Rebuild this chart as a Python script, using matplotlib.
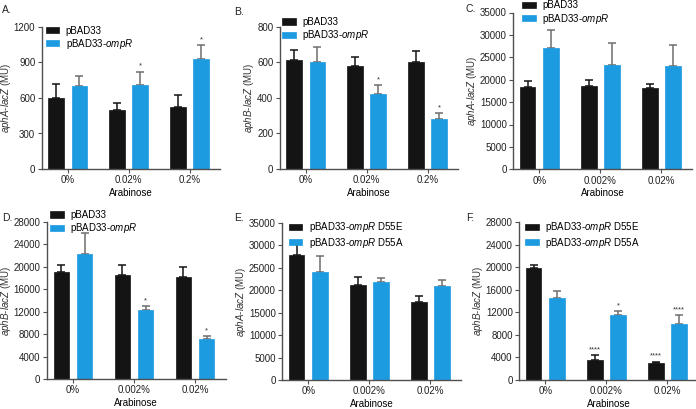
import matplotlib
matplotlib.use("Agg")
import matplotlib.pyplot as plt
import numpy as np

plt.rcParams["font.family"] = ["Liberation Sans", "DejaVu Sans"]
plt.rcParams["mathtext.fontset"] = "custom"
plt.rcParams["mathtext.rm"] = "Liberation Sans"
plt.rcParams["mathtext.it"] = "Liberation Sans:italic"
plt.rcParams["font.size"] = 7

W, H = 696, 409
BLACK = "#141414"
BLUE = "#1c9be0"
AXC = "#505050"

# --- data ---
conc_ab = ["0%", "0.02%", "0.2%"]
conc_cf = ["0%", "0.002%", "0.02%"]

lab_wt = ["pBAD33", "pBAD33-$\\mathit{ompR}$"]
lab_mut = ["pBAD33-$\\mathit{ompR}$ D55E", "pBAD33-$\\mathit{ompR}$ D55A"]

a_black = [603, 496, 524]
a_black_err = [115, 62, 99]
a_blue = [704, 710, 932]
a_blue_err = [82, 110, 116]

b_black = [611, 579, 600]
b_black_err = [60, 53, 62]
b_blue = [600, 421, 280]
b_blue_err = [88, 50, 34]

c_black = [18400, 18700, 18100]
c_black_err = [1300, 1200, 900]
c_blue = [27100, 23250, 23100]
c_blue_err = [4100, 4980, 4700]

d_black = [19030, 18490, 18130]
d_black_err = [1360, 1900, 1790]
d_blue = [22240, 12250, 7130]
d_blue_err = [3800, 710, 490]

e_black = [27900, 21200, 17500]
e_black_err = [2600, 1700, 1250]
e_blue = [24050, 21800, 20850]
e_blue_err = [3500, 1050, 1500]

f_black = [19830, 3610, 3080]
f_black_err = [590, 770, 180]
f_blue = [14500, 11540, 9890]
f_blue_err = [1250, 600, 1600]

# stars: (series 0=black / 1=blue, group, text)
a_stars = [(1, 1, "*"), (1, 2, "*")]
b_stars = [(1, 1, "*"), (1, 2, "*")]
d_stars = [(1, 1, "*"), (1, 2, "*")]
f_stars = [(0, 1, "****"), (1, 1, "*"), (0, 2, "****"), (1, 2, "****")]

fig = plt.figure(figsize=(W / 100, H / 100), dpi=100)


def panel(box, letter, letter_xy, cats, black, black_err, blue, blue_err,
          ymax, yticks, ylab, labels, leg_xy, stars=()):
    l, t, r, b = box
    ax = fig.add_axes([l / W, 1 - b / H, (r - l) / W, (b - t) / H])
    x = np.arange(len(cats))
    off, bw = 0.19, 0.255
    for i, (vals, errs, col, ecol) in enumerate(
            [(black, black_err, BLACK, BLACK), (blue, blue_err, BLUE, "#6e6e6e")]):
        xs = x - off if i == 0 else x + off
        ax.bar(xs, vals, bw, color=col, edgecolor=col, linewidth=0.5,
               zorder=2, label=labels[i])
        ax.errorbar(xs, vals, yerr=[np.zeros(len(vals)), errs], fmt="none",
                    ecolor=ecol, elinewidth=1.1, capsize=2.6, capthick=1.1,
                    zorder=1)
    for s, g, txt in stars:
        vals, errs = (black, black_err) if s == 0 else (blue, blue_err)
        xs = x[g] - off if s == 0 else x[g] + off
        ax.annotate(txt, (xs, vals[g] + errs[g]), xytext=(0, 1.5),
                    textcoords="offset points", ha="center", va="bottom",
                    fontsize=5.5, color="#333333")
    ax.set_xlim(-0.43, 2.5)
    ax.set_ylim(0, ymax)
    ax.set_yticks(yticks)
    ax.set_xticks(x)
    ax.set_xticklabels(cats)
    ax.set_xlabel("Arabinose", fontsize=7, labelpad=2)
    ax.set_ylabel(ylab, fontsize=7, labelpad=0.6, color="#333333")
    for sp in ["top", "right"]:
        ax.spines[sp].set_visible(False)
    for sp in ["left", "bottom"]:
        ax.spines[sp].set_color(AXC)
        ax.spines[sp].set_linewidth(1.0)
    ax.tick_params(direction="out", length=3, width=0.8, color=AXC,
                   labelsize=7, pad=1.5, labelcolor="#222222")
    ax.legend(loc="upper left", bbox_to_anchor=(leg_xy[0] / W, 1 - leg_xy[1] / H),
              bbox_transform=fig.transFigure, frameon=False, fontsize=7,
              handlelength=1.4, handleheight=0.62, handletextpad=0.65,
              labelspacing=0.12, borderpad=0, borderaxespad=0)
    fig.text(letter_xy[0] / W, 1 - letter_xy[1] / H, letter, fontsize=7.5,
             va="center", ha="left", color="#222222")
    return ax


ylab_a = "$\\mathit{aphA}$-$\\mathit{lacZ}$ (MU)"
ylab_b = "$\\mathit{aphB}$-$\\mathit{lacZ}$ (MU)"

panel((41.5, 27, 220, 169), "A.", (2, 10), conc_ab, a_black, a_black_err,
      a_blue, a_blue_err, 1200, [0, 300, 600, 900, 1200], ylab_a, lab_wt,
      (45.7, 25.5), a_stars)
panel((279.5, 26.7, 458, 169), "B.", (234, 12), conc_ab, b_black, b_black_err,
      b_blue, b_blue_err, 800, [0, 200, 400, 600, 800], ylab_b, lab_wt,
      (282, 17), b_stars)
panel((513, 12.5, 692, 169.3), "C.", (466, 9), conc_cf, c_black, c_black_err,
      c_blue, c_blue_err, 35000, np.arange(0, 35001, 5000), ylab_a, lab_wt,
      (522.3, 0.5))
panel((46.7, 222, 225.5, 379), "D.", (2, 218), conc_cf, d_black, d_black_err,
      d_blue, d_blue_err, 28000, np.arange(0, 28001, 4000), ylab_b, lab_wt,
      (50, 210), d_stars)
panel((282, 223, 461, 380), "E.", (234, 218), conc_cf, e_black, e_black_err,
      e_blue, e_blue_err, 35000, np.arange(0, 35001, 5000), ylab_a, lab_mut,
      (288.7, 220.5))
panel((519, 222, 698, 380), "F.", (466, 218), conc_cf, f_black, f_black_err,
      f_blue, f_blue_err, 28000, np.arange(0, 28001, 4000), ylab_b, lab_mut,
      (525, 220.5), f_stars)

fig.savefig("out.png", dpi=100)
